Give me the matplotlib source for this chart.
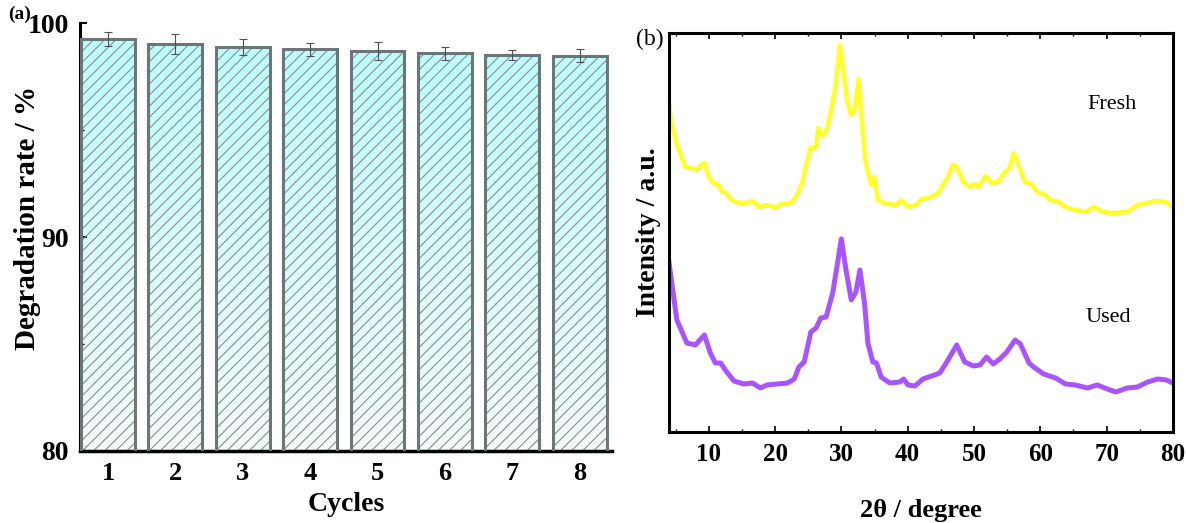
import numpy as np
import matplotlib
matplotlib.use("Agg")
import matplotlib.pyplot as plt
from matplotlib.ticker import MultipleLocator, FixedLocator

plt.rcParams['font.family'] = ['Liberation Serif', 'DejaVu Serif']
plt.rcParams['hatch.linewidth'] = 0.8

# panel (a): degradation rate over reuse cycles
cycles = [1, 2, 3, 4, 5, 6, 7, 8]
rate = [99.27, 99.02, 98.91, 98.78, 98.70, 98.60, 98.53, 98.48]
rate_err = [0.34, 0.46, 0.37, 0.31, 0.41, 0.31, 0.23, 0.30]

# panel (b): XRD patterns (intensity in arbitrary units)
tt_fresh = [3.9, 4.4, 5.2, 5.7, 6.5, 7.2, 8.2, 8.7, 9.4, 10.0, 10.8, 11.4, 12.0, 12.5,
            13.3, 14.0, 14.8, 15.8, 16.6, 17.6, 18.8, 20.1, 20.9, 22.1, 23.1, 23.9,
            24.65, 25.3, 26.2, 26.5, 27.2, 27.9, 28.4, 29.2, 29.8, 30.45, 30.9, 31.5,
            32.0, 32.6, 33.1, 33.6, 34.5, 35.0, 35.5, 36.8, 38.3, 39.05, 40.05, 41.3,
            42.1, 43.3, 44.6, 45.6, 46.1, 46.8, 47.4, 48.4, 49.4, 50.15, 50.65, 51.8,
            52.7, 53.7, 54.7, 55.4, 56.0, 56.7, 57.7, 58.7, 59.5, 60.75, 61.5, 62.8,
            64.05, 65.3, 66.8, 68.1, 69.35, 71.1, 73.1, 74.65, 76.2, 77.45, 79.0, 79.9]
int_fresh = [335, 309, 287, 279, 265, 264, 262, 266, 269, 255, 248, 248, 240, 240,
             233, 230, 229, 229, 231, 225, 227, 224, 228, 228, 234, 245,
             264, 284, 284, 304, 296, 304, 319, 349, 387, 355, 330, 317,
             322, 353, 312, 272, 247, 255, 232, 228, 227, 232, 225, 227,
             233, 234, 239, 250, 255, 267, 265, 250, 245, 248, 245, 256,
             249, 250, 260, 264, 279, 267, 250, 248, 240, 237, 232, 230,
             224, 222, 220, 225, 220, 219, 220, 227, 229, 231, 230, 225]

tt_used = [3.96, 5.2, 6.7, 8.0, 9.35, 10.25, 11.0, 11.8, 12.5, 13.8, 15.3, 16.6, 17.8,
           18.8, 20.3, 21.9, 22.9, 23.6, 24.4, 25.4, 26.2, 26.9, 27.7, 28.7, 29.5,
           30.0, 30.7, 31.5, 32.2, 32.8, 33.5, 34.0, 34.75, 35.3, 36.0, 37.3, 38.8,
           39.4, 40.05, 41.1, 42.3, 43.6, 44.85, 45.9, 47.4, 48.6, 49.9, 50.9, 51.9,
           52.9, 53.9, 54.95, 56.2, 57.0, 58.3, 59.0, 60.5, 62.3, 63.8, 65.3, 67.1,
           68.6, 70.1, 71.4, 73.1, 74.65, 76.2, 77.7, 79.0, 80.0]
int_used = [172, 112, 89, 87, 97, 79, 69, 69, 62, 51, 48, 49, 44,
            47, 48, 49, 53, 65, 70, 100, 104, 114, 115, 139, 172,
            193, 162, 132, 140, 162, 129, 89, 70, 69, 55, 49, 50,
            53, 47, 46, 53, 56, 59, 70, 87, 70, 66, 67, 75,
            68, 73, 80, 92, 88, 69, 65, 58, 54, 48, 47, 44,
            47, 43, 40, 44, 45, 50, 53, 52, 49]

fig = plt.figure(figsize=(11.86, 5.23), dpi=100)
ax1 = fig.add_axes([0.0675, 0.1377, 0.4485, 0.8177])
ax2 = fig.add_axes([0.564, 0.174, 0.425, 0.763])

# ---- (a) bars with cyan->white gradient and hatch
width = 0.8
grad = np.linspace(0, 1, 256).reshape(-1, 1)
cmap = matplotlib.colors.LinearSegmentedColormap.from_list(
    'cy', ['#F4FAFA', '#BCFFFF'])
bars = ax1.bar(cycles, rate, width=width, bottom=0, facecolor='none',
               edgecolor='#8C8C8C', hatch='///', linewidth=0, zorder=2)
for b in bars:
    x0 = b.get_x()
    im = ax1.imshow(grad, cmap=cmap, origin='lower', aspect='auto',
                    extent=[x0, x0 + width, 80, b.get_height()], zorder=1)
    im.set_clip_path(b)
ax1.bar(cycles, rate, width=width, bottom=0, facecolor='none',
        edgecolor='#6B7676', linewidth=2.2, zorder=3)
ax1.errorbar(cycles, rate, yerr=rate_err, fmt='none', ecolor='#505050',
             elinewidth=0.8, capsize=3, capthick=0.8, zorder=4)

ax1.set_xlim(0.585, 8.48)
ax1.set_ylim(80, 100)
ax1.set_yticks([80, 90, 100])
ax1.yaxis.set_minor_locator(FixedLocator([85, 95]))
ax1.set_xticks(cycles)
ax1.tick_params(axis='x', length=0, pad=8, labelsize=19)
ax1.tick_params(axis='y', which='major', direction='in', length=5, width=1.5,
                pad=8, labelsize=20)
ax1.tick_params(axis='y', which='minor', direction='in', length=3, width=1)
for lab in ax1.get_xticklabels() + ax1.get_yticklabels():
    lab.set_fontweight('bold')
for s in ['top', 'right']:
    ax1.spines[s].set_visible(False)
ax1.spines['left'].set_linewidth(2.2)
ax1.spines['bottom'].set_linewidth(2.5)
ax1.set_xlabel('Cycles', fontsize=20, fontweight='bold', labelpad=5)
ax1.set_ylabel('Degradation rate / %', fontsize=21, fontweight='bold')
ax1.yaxis.set_label_coords(-0.074, 0.545)
fig.text(0.007, 0.972, '(a)', fontsize=14, fontweight='bold', ha='left', va='center')

# ---- (b) XRD
ax2.plot(tt_fresh, int_fresh, color='#FFFF2A', lw=3.2)
ax2.plot(tt_used, int_used, color='#A855FF', lw=3.6)
ax2.set_xlim(4, 80)
ax2.set_ylim(0, 399)
ax2.set_yticks([])
ax2.xaxis.set_major_locator(MultipleLocator(10))
ax2.xaxis.set_minor_locator(MultipleLocator(5))
ax2.tick_params(axis='x', which='major', direction='in', length=4, width=1.2,
                top=True, pad=8, labelsize=18)
ax2.tick_params(axis='x', which='minor', direction='in', length=2.5, width=1,
                top=True)
ax2.set_xticks([10, 20, 30, 40, 50, 60, 70, 80])
for lab in ax2.get_xticklabels():
    lab.set_fontweight('bold')
for s in ax2.spines.values():
    s.set_linewidth(2.2)
ax2.text(70.8, 327, 'Fresh', fontsize=16, ha='center', va='center')
ax2.text(70.3, 114, 'Used', fontsize=16, ha='center', va='center')
ax2.set_xlabel('2θ / degree', fontsize=19, fontweight='bold', labelpad=24)
ax2.set_ylabel('Intensity / a.u.', fontsize=20, fontweight='bold', labelpad=6)
fig.text(0.548, 0.925, '(b)', fontsize=17, ha='center', va='center')

fig.savefig('out.png', dpi=100)
